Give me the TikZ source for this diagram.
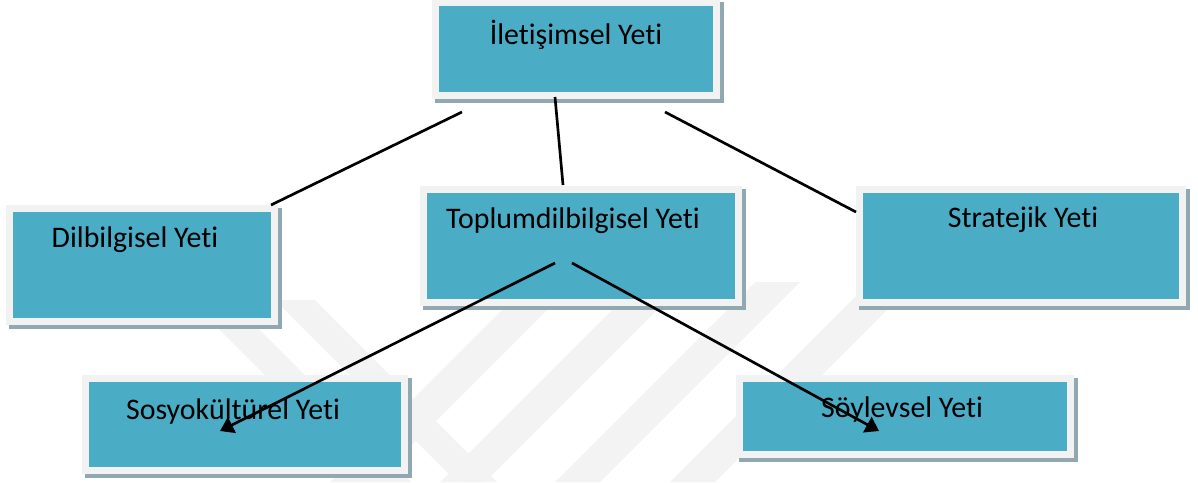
\documentclass[tikz,border=0pt]{standalone}
\usepackage{fontspec}
\setmainfont{Carlito}[RawFeature={-liga;-clig;-dlig;-calt}]
\usetikzlibrary{arrows.meta,backgrounds,calc}
\definecolor{boxblue}{HTML}{4BACC6}
\definecolor{boxframe}{HTML}{F2F2F2}
\definecolor{boxshadow}{HTML}{8FA8B1}
\definecolor{wmark}{HTML}{F3F3F3}
\tikzset{
  yetibox/.style={rectangle, fill=boxblue, draw=boxframe, line width=5.25pt,
    inner sep=0pt, anchor=center},
  yetitext/.style={font=\fontsize{22.4}{27}\selectfont, text=black, inner sep=0pt, anchor=center},
  conn/.style={line width=2pt, black},
  arr/.style={conn, -{Triangle[width=13pt,length=10pt]}},
  band/.style={fill=wmark, draw=none},
  shadowbox/.style={fill=boxshadow, draw=none}
}
\newcommand{\yetishadow}[1]{\fill[shadowbox] ($(#1.north west)+(3,3)$) rectangle ($(#1.south east)+(4,3.5)$);}
\begin{document}
\begin{tikzpicture}[x=0.75pt,y=-0.75pt]
\useasboundingbox (0,0) rectangle (1198,482);
% boxes
\node[yetibox, minimum width=281*0.75pt, minimum height=93*0.75pt] (ile) at (576,49) {};
\node[yetibox, minimum width=265*0.75pt, minimum height=113*0.75pt] (dil) at (142,265) {};
\node[yetibox, minimum width=315*0.75pt, minimum height=113*0.75pt] (top) at (581,246) {};
\node[yetibox, minimum width=323*0.75pt, minimum height=113*0.75pt] (str) at (1021,246) {};
\node[yetibox, minimum width=319*0.75pt, minimum height=92*0.75pt] (sos) at (245,424.5) {};
\node[yetibox, minimum width=331*0.75pt, minimum height=76*0.75pt] (soy) at (905,416.5) {};
\begin{scope}[on background layer]
% watermark
\begin{scope}
\clip (170,270) rectangle (930,482);
\fill[band] (330,482) -- (375,482) -- (575,282) -- (530,282) -- cycle;
\fill[band] (440,482) -- (485,482) -- (685,282) -- (640,282) -- cycle;
\fill[band] (555,482) -- (600,482) -- (800,282) -- (755,282) -- cycle;
\fill[band] (670,482) -- (715,482) -- (915,282) -- (870,282) -- cycle;
\fill[band] (190,300) -- (230,300) -- (412,482) -- (372,482) -- cycle;
\fill[band] (275,300) -- (315,300) -- (497,482) -- (457,482) -- cycle;
\end{scope}
% shadows
\yetishadow{ile}
\yetishadow{dil}
\yetishadow{top}
\yetishadow{str}
\yetishadow{sos}
\yetishadow{soy}
\end{scope}
% texts
\node[yetitext] (tile) at (576,35) {İletişimsel Yeti};
\node[yetitext] (tdil) at (135,240) {Dilbilgisel Yeti};
\node[yetitext] (ttop) at (573,221) {Toplumdilbilgisel Yeti};
\node[yetitext] (tstr) at (1023,220) {Stratejik Yeti};
\node[yetitext] (tsos) at (233,412) {Sosyokültürel Yeti};
\node[yetitext] (tsoy) at (902,410) {Söylevsel Yeti};
% connector end points
\coordinate (a1) at (462,112);
\coordinate (a2) at (271,205);
\coordinate (b1) at (555,97);
\coordinate (b2) at (563,185);
\coordinate (c1) at (665,112);
\coordinate (c2) at (856,212);
\coordinate (d1) at (555,263);
\coordinate (d2) at (220,431);
\coordinate (e1) at (572,263);
\coordinate (e2) at (879,431);
\draw[conn] (a1) -- (a2);
\draw[conn] (b1) -- (b2);
\draw[conn] (c1) -- (c2);
\draw[arr] (d1) -- (d2);
\draw[arr] (e1) -- (e2);
\end{tikzpicture}
\end{document}
